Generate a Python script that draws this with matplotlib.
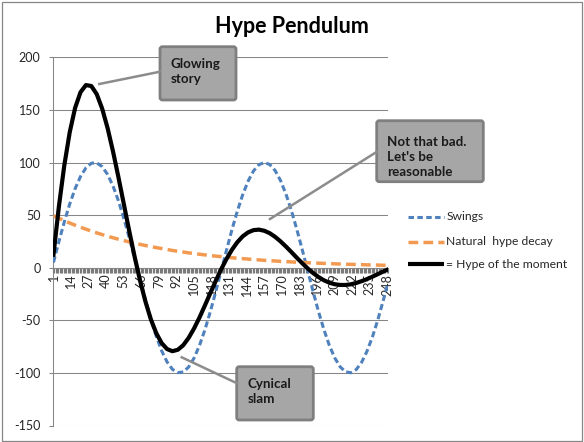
import matplotlib
matplotlib.use("Agg")
import matplotlib.pyplot as plt
from matplotlib.patches import FancyBboxPatch, Rectangle
from matplotlib.lines import Line2D

plt.rcParams['font.family'] = ['Lato', 'DejaVu Sans']

# ---------------- data ----------------
days = [1, 5, 9, 13, 17, 21, 25, 29, 33, 37, 41, 45, 49, 53, 57, 61, 65, 69, 73, 77,
        81, 85, 89, 93, 97, 101, 105, 109, 113, 117, 121, 125, 129, 133, 137, 141, 145,
        149, 153, 157, 161, 165, 169, 173, 177, 181, 185, 189, 193, 197, 201, 205, 209,
        213, 217, 221, 225, 229, 233, 237, 241, 245, 248]

swings = [5.0, 24.7, 43.5, 60.5, 75.1, 86.7, 94.9, 99.3, 99.7, 96.1, 88.7, 77.8, 63.8,
          47.2, 28.7, 9.1, -10.8, -30.4, -48.7, -65.1, -78.9, -89.5, -96.6, -99.8, -99.1,
          -94.4, -85.9, -74.0, -59.2, -42.0, -23.1, -3.3, 16.6, 35.9, 53.7, 69.4, 82.3,
          92.0, 97.9, 100.0, 98.1, 92.3, 82.8, 70.0, 54.4, 36.6, 17.4, -2.5, -22.3, -41.3,
          -58.5, -73.5, -85.5, -94.1, -98.9, -99.9, -96.8, -89.9, -79.3, -65.7, -49.4,
          -31.1, -16.6]

decay = [49.4, 47.0, 44.7, 42.5, 40.4, 38.5, 36.6, 34.8, 33.1, 31.5, 29.9, 28.5, 27.1,
         25.8, 24.5, 23.3, 22.2, 21.1, 20.1, 19.1, 18.2, 17.3, 16.4, 15.6, 14.9, 14.1,
         13.5, 12.8, 12.2, 11.6, 11.0, 10.5, 10.0, 9.5, 9.0, 8.6, 8.2, 7.8, 7.4, 7.0, 6.7,
         6.4, 6.0, 5.8, 5.5, 5.2, 5.0, 4.7, 4.5, 4.3, 4.1, 3.9, 3.7, 3.5, 3.3, 3.2, 3.0,
         2.9, 2.7, 2.6, 2.5, 2.3, 2.3]

hype = [12.3, 58.1, 97.2, 128.6, 151.9, 166.8, 173.6, 172.7, 165.0, 151.3, 132.9, 110.8,
        86.4, 60.8, 35.2, 10.7, -12.0, -32.0, -48.9, -62.1, -71.6, -77.3, -79.4, -78.0,
        -73.7, -66.7, -57.8, -47.4, -36.0, -24.3, -12.7, -1.7, 8.3, 17.0, 24.2, 29.8, 33.6,
        35.7, 36.2, 35.1, 32.8, 29.3, 25.0, 20.1, 14.9, 9.5, 4.3, -0.6, -5.0, -8.8, -11.9,
        -14.2, -15.7, -16.4, -16.4, -15.8, -14.5, -12.8, -10.8, -8.5, -6.1, -3.6, -1.9]

series_names = ['Swings', 'Natural  hype decay', '= Hype of the moment']
x_tick_labels = ['1', '14', '27', '40', '53', '66', '79', '92', '105', '118', '131',
                 '144', '157', '170', '183', '196', '209', '222', '235', '248']
y_ticks = [-150, -100, -50, 0, 50, 100, 150, 200]
title = 'Hype Pendulum'
notes = ['Glowing\nstory', 'Not that bad.\nLet\'s be\nreasonable', 'Cynical\nslam']

# ---------------- figure ----------------
W, H = 584, 442
fig = plt.figure(figsize=(W / 100, H / 100), dpi=100)

L, R, T, B = 52.8, 388.0, 57.3, 425.5
ax = fig.add_axes([L / W, 1 - B / H, (R - L) / W, (B - T) / H])

GRID = '#868686'
TXT = '#262626'

# spines first (set_position resets tick settings)
for s in ['top', 'right']:
    ax.spines[s].set_visible(False)
ax.spines['bottom'].set_position(('data', 0))
ax.spines['left'].set_color(GRID)
ax.spines['left'].set_linewidth(0.75)
ax.spines['bottom'].set_color(GRID)
ax.spines['bottom'].set_linewidth(0.75)

ax.plot(days, swings, color='#4F81BD', lw=2.2, dashes=(2.0, 1.1), zorder=3,
        dash_capstyle='butt')
ax.plot(days, decay, color='#F39A52', lw=2.5, dashes=(2.8, 1.5), zorder=3.1,
        dash_capstyle='butt')
ax.plot(days, hype, color='black', lw=3.0, zorder=3.2, solid_joinstyle='round')

ax.set_xlim(0.5, 248.5)
ax.set_ylim(-150, 200)

ax.set_yticks(y_ticks)
ax.set_yticklabels([str(v) for v in y_ticks])
ax.yaxis.grid(True, color=GRID, lw=0.75)
ax.set_axisbelow(True)

xt = [int(s) for s in x_tick_labels]
ax.set_xticks(xt)
ax.set_xticklabels(x_tick_labels)
ax.set_xticks([v + 0.5 for v in range(0, 249)], minor=True)

ax.tick_params(axis='y', which='major', length=3, width=0.75, color=GRID,
               pad=5.8, labelsize=9, labelcolor=TXT)
ax.tick_params(axis='x', which='major', length=0, pad=4.3, labelsize=9,
               labelcolor=TXT, labelrotation=90)
ax.tick_params(axis='x', which='minor', length=3.3, width=0.85, color='#7A7A7A',
               direction='out')
ax.patch.set_alpha(0)

# ---------------- overlay (pixel coordinates, top-left origin) ----------------
ov = fig.add_axes([0, 0, 1, 1], zorder=5)
ov.set_xlim(0, W)
ov.set_ylim(H, 0)
ov.axis('off')
ov.patch.set_alpha(0)

# outer chart border
ov.add_patch(Rectangle((1.7, 1.7), W - 3.6, H - 3.2, fill=False, ec=GRID, lw=0.9))

# title
ov.text(291.7, 33.3, title, ha='center', va='baseline', fontsize=15.5,
        fontweight='bold', color='black')

# callout connectors
CONN = '#8C8C8C'
ov.add_line(Line2D([99.3, 160.0], [84.0, 71.7], color=CONN, lw=1.8))
ov.add_line(Line2D([270.0, 377.0], [219.0, 151.7], color=CONN, lw=1.8))
ov.add_line(Line2D([181.7, 237.0], [357.3, 383.3], color=CONN, lw=1.8))

# callout boxes (text anchored at the baseline of the last line)
boxes = [(160.0, 46.7, 236.0, 100.0, 170.5, 83.3),
         (376.7, 120.7, 483.3, 181.7, 387.3, 176.0),
         (236.7, 366.7, 313.3, 420.0, 247.3, 403.3)]
for (x0, y0, x1, y1, tx, ty), note in zip(boxes, notes):
    ov.add_patch(FancyBboxPatch((x0, y0), x1 - x0, y1 - y0,
                                boxstyle='round,pad=0,rounding_size=2.5',
                                fc='#A6A6A6', ec='#7F7F7F', lw=2.0))
    ov.text(tx, ty, note, ha='left', va='baseline', fontsize=9.6, fontweight='bold',
            color='#1A1A1A', linespacing=1.3)

# legend
leg_rows = [216.7, 241.7, 264.3]
styles = [dict(color='#4F81BD', lw=2.2, dashes=(1.8, 1.1)),
          dict(color='#F39A52', lw=2.5, dashes=(2.8, 1.5)),
          dict(color='black', lw=3.0)]
for yrow, name, st in zip(leg_rows, series_names, styles):
    ov.add_line(Line2D([408.3, 444.3], [yrow, yrow], solid_capstyle='butt',
                       dash_capstyle='butt', **st))
    ov.text(446.5, yrow, name, ha='left', va='center', fontsize=8.7, color=TXT)

fig.savefig('out.png', dpi=100)
